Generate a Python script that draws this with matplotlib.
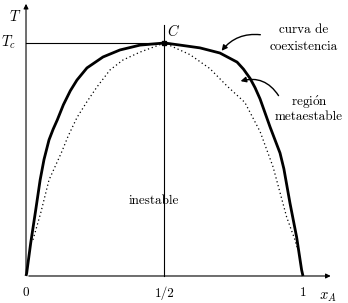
import matplotlib
matplotlib.use('Agg')
import matplotlib.pyplot as plt
from matplotlib.patches import FancyArrowPatch

plt.rcParams['font.family'] = ['cmr10', 'DejaVu Serif']
plt.rcParams['mathtext.fontset'] = 'cm'
plt.rcParams['axes.unicode_minus'] = False

# coexistence curve (thick): x_A, T/Tc
coex_x = [0.0, 0.0025, 0.017, 0.035, 0.051, 0.065, 0.083, 0.098, 0.113, 0.135,
          0.160, 0.184, 0.220, 0.278, 0.339, 0.412, 0.5, 0.556, 0.628, 0.700,
          0.762, 0.785, 0.809, 0.827, 0.845, 0.881, 0.917, 0.931, 0.953, 0.977,
          0.995, 1.0]
coex_t = [0.0, 0.013, 0.142, 0.283, 0.412, 0.500, 0.584, 0.630, 0.670, 0.735,
          0.795, 0.841, 0.893, 0.940, 0.970, 0.991, 1.0, 0.991, 0.979, 0.957,
          0.918, 0.888, 0.848, 0.808, 0.760, 0.640, 0.528, 0.460, 0.313, 0.167,
          0.026, 0.0]

# spinodal (dotted)
spin_x = [0.025, 0.053, 0.083, 0.128, 0.152, 0.184, 0.220, 0.256, 0.303, 0.350,
          0.412, 0.5, 0.592, 0.664, 0.726, 0.790, 0.845, 0.892, 0.941, 0.971,
          0.978]
spin_t = [0.155, 0.270, 0.412, 0.530, 0.600, 0.680, 0.748, 0.811, 0.884, 0.927,
          0.961, 1.0, 0.950, 0.890, 0.815, 0.745, 0.620, 0.468, 0.253, 0.155,
          0.124]

tick_pos = [0, 0.5, 1]
tick_lab = ['0', '1/2', '1']

fig = plt.figure(figsize=(3.48, 3.03), dpi=100)
ax = fig.add_axes([0, 0, 1, 1])
ax.set_xlim(-0.0939, 1.1625)
ax.set_ylim(-0.1159, 1.1845)
ax.axis('off')

fs = 9.5

# axes with arrows
ax.annotate('', xy=(1.11, 0), xytext=(0, 0),
            arrowprops=dict(arrowstyle='-|>', lw=0.8, color='black', mutation_scale=7))
ax.annotate('', xy=(0, 1.18), xytext=(0, 0),
            arrowprops=dict(arrowstyle='-|>', lw=0.8, color='black', mutation_scale=7))

# Tc line and x=1/2 line
ax.plot([0, 0.52], [1, 1], color='black', lw=0.8)
ax.plot([0.5, 0.5], [0, 1.077], color='black', lw=0.8)

ax.plot(spin_x, spin_t, color='black', lw=0.9, linestyle=(0, (1, 2.2)))
ax.plot(coex_x, coex_t, color='black', lw=2.0, solid_capstyle='butt',
        solid_joinstyle='round')
ax.plot([0.5], [1.0], marker='s', ms=3, color='black')

for p, s in zip(tick_pos, tick_lab):
    ax.text(p, -0.073, s, fontsize=fs, ha='center', va='center')

ax.text(1.090, -0.090, r'$x_A$', fontsize=fs + 1, ha='center', va='center')
ax.text(-0.040, 1.112, r'$T$', fontsize=fs + 1, ha='center', va='center')
ax.text(-0.065, 1.004, r'$T_c$', fontsize=fs + 1, ha='center', va='center')
ax.text(0.531, 1.052, r'$C$', fontsize=fs + 1, ha='center', va='center')

ax.text(0.462, 0.322, 'inestable', fontsize=fs, ha='center', va='center')
ax.text(1.004, 1.056, 'curva de', fontsize=fs, ha='center', va='center')
ax.text(1.004, 0.983, 'coexistencia', fontsize=fs, ha='center', va='center')
ax.text(1.022, 0.747, r'regi$\mathrm{\acute{o}}$n', fontsize=fs, ha='center', va='center')
ax.text(1.022, 0.682, 'metaestable', fontsize=fs, ha='center', va='center')

a1 = FancyArrowPatch((0.856, 1.034), (0.700, 0.957), connectionstyle='arc3,rad=0.3',
                     arrowstyle='-|>', mutation_scale=8, lw=1.0, color='black')
a2 = FancyArrowPatch((0.917, 0.764), (0.765, 0.833), connectionstyle='arc3,rad=0.4',
                     arrowstyle='-|>', mutation_scale=8, lw=1.0, color='black')
ax.add_patch(a1)
ax.add_patch(a2)

fig.savefig('out.png', dpi=100, facecolor='white')
